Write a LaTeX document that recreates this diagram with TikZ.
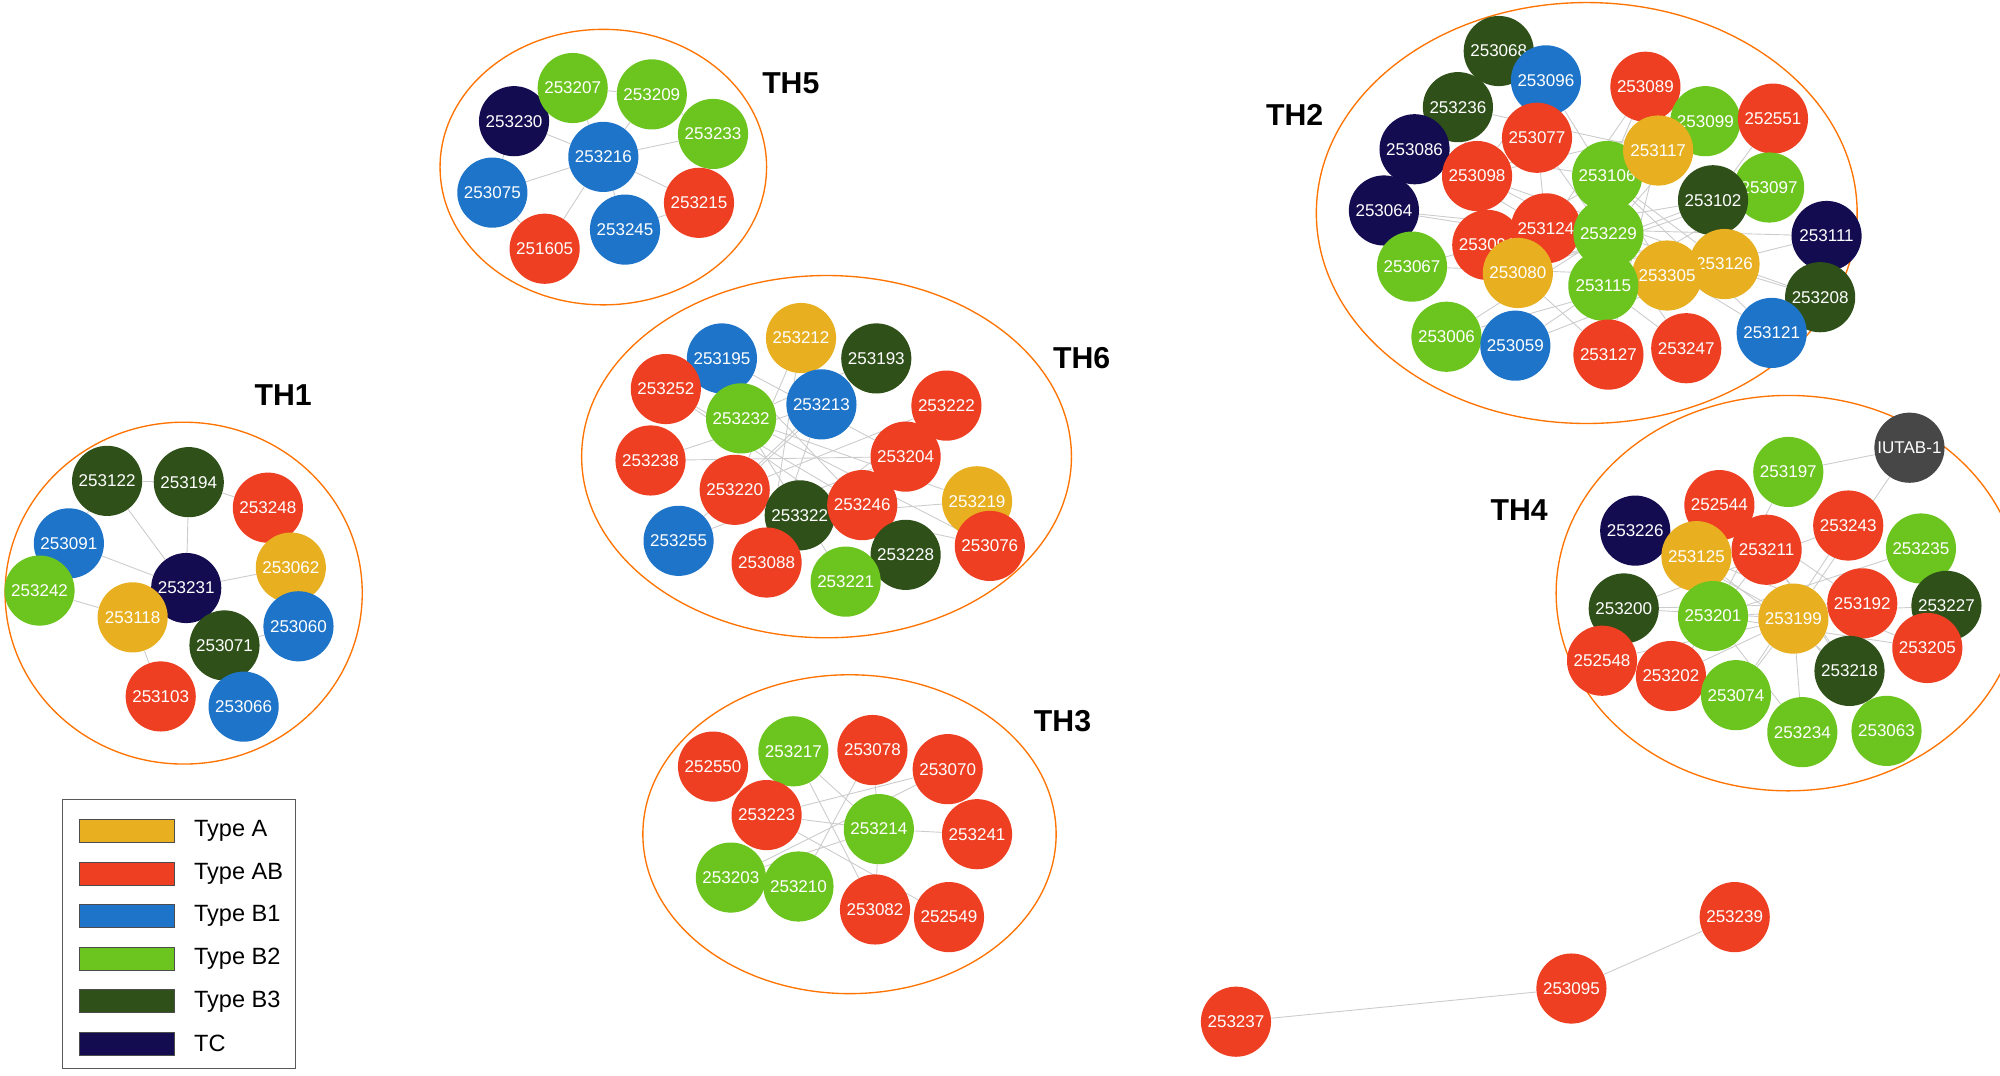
\documentclass[tikz,border=0pt]{standalone}
\usepackage{fontspec}
\setmainfont{Liberation Sans}
\usetikzlibrary{backgrounds}
\definecolor{typeA}{HTML}{E8B020}
\definecolor{typeAB}{HTML}{EE3F22}
\definecolor{typeBa}{HTML}{1E74C8}
\definecolor{typeBb}{HTML}{6CC51E}
\definecolor{typeBc}{HTML}{2F5119}
\definecolor{typeTC}{HTML}{140C50}
\definecolor{iutab}{HTML}{474747}
\tikzset{
  strain/.style={circle,minimum size=1.1cm,inner sep=0pt,text=white,font=\fontsize{7.6}{8}\selectfont},
  A/.style={strain,fill=typeA}, AB/.style={strain,fill=typeAB}, B1/.style={strain,fill=typeBa},
  B2/.style={strain,fill=typeBb}, B3/.style={strain,fill=typeBc}, TC/.style={strain,fill=typeTC},
  GR/.style={strain,fill=iutab},
  hull/.style={draw=orange!90!red,line width=0.6pt},
  link/.style={draw=gray!40,line width=0.4pt},
  group/.style={font=\fontsize{13.5}{14}\selectfont\bfseries},
  swatch/.style={draw=gray!60!black,line width=0.3pt,minimum width=1.5cm,minimum height=0.36cm,inner sep=0pt},
  key/.style={anchor=west,font=\fontsize{10.5}{12}\selectfont}
}
\newcommand{\pnode}[4]{\node[#4] (n#1) at (#2,#3) {#1};}
\begin{document}
\begin{tikzpicture}[x=0.02cm,y=-0.02cm]
    \useasboundingbox (0,0) rectangle (1568,843);
    % cluster hulls
    \draw[hull] (473,131) ellipse [x radius=128,y radius=108];
    \draw[hull] (1244,167) ellipse [x radius=212,y radius=165];
    \draw[hull] (648,358) ellipse [x radius=192,y radius=142];
    \draw[hull] (144,465) ellipse [x radius=140,y radius=134];
    \draw[hull] (666,654) ellipse [x radius=162,y radius=125];
    \draw[hull] (1402,465) ellipse [x radius=182,y radius=155];
    \node[group] (th5) at (620,65) {TH5};
    \node[group] (th2) at (1015,90) {TH2};
    \node[group] (th6) at (848,281) {TH6};
    \node[group] (th1) at (222,310) {TH1};
    \node[group] (th3) at (833,565) {TH3};
    \node[group] (th4) at (1191,400) {TH4};

    % TH5
    \pnode{253230}{403}{95}{TC} \pnode{253207}{449}{69}{B2} \pnode{253209}{511}{74}{B2}
    \pnode{253233}{559}{105}{B2} \pnode{253216}{473}{123}{B1} \pnode{253075}{386}{151}{B1}
    \pnode{253215}{548}{159}{AB} \pnode{253245}{490}{180}{B1} \pnode{251605}{427}{195}{AB}
    % TH2
    \pnode{253068}{1175}{40}{B3} \pnode{253096}{1212}{63}{B1} \pnode{253089}{1290}{68}{AB}
    \pnode{253236}{1143}{84}{B3} \pnode{253099}{1337}{95}{B2} \pnode{252551}{1390}{93}{AB}
    \pnode{253077}{1205}{108}{AB} \pnode{253086}{1109}{117}{TC} \pnode{253098}{1158}{138}{AB}
    \pnode{253106}{1260}{138}{B2} \pnode{253117}{1300}{118}{A} \pnode{253097}{1387}{147}{B2}
    \pnode{253102}{1343}{157}{B3} \pnode{253064}{1085}{165}{TC} \pnode{253111}{1432}{185}{TC}
    \pnode{253091}{1166}{192}{AB} \pnode{253124}{1212}{179}{AB} \pnode{253229}{1261}{183}{B2}
    \pnode{253067}{1107}{209}{B2} \pnode{253080}{1190}{214}{A} \pnode{253126}{1352}{207}{A}
    \pnode{253305}{1307}{216}{A} \pnode{253115}{1257}{224}{B2} \pnode{253208}{1427}{233}{B3}
    \pnode{253006}{1134}{264}{B2} \pnode{253059}{1188}{271}{B1} \pnode{253127}{1261}{278}{AB}
    \pnode{253247}{1322}{273}{AB} \pnode{253121}{1389}{261}{B1}
    % TH6
    \pnode{253212}{628}{265}{A} \pnode{253195}{566}{281}{B1} \pnode{253193}{687}{281}{B3}
    \pnode{253252}{522}{305}{AB} \pnode{253213}{644}{317}{B1} \pnode{253222}{742}{318}{AB}
    \pnode{253232}{581}{328}{B2} \pnode{253238}{510}{361}{AB} \pnode{253204}{710}{358}{AB}
    \pnode{253220}{576}{384}{AB} \pnode{253219}{766}{393}{A} \pnode{253322}{627}{404}{B3}
    \pnode{253246}{676}{396}{AB} \pnode{253255}{532}{424}{B1} \pnode{253076}{776}{428}{AB}
    \pnode{253228}{710}{435}{B3} \pnode{253088}{601}{441}{AB} \pnode{253221}{663}{456}{B2}
    % TH1
    \pnode{253122}{84}{377}{B3} \pnode{253194}{148}{378}{B3} \pnode{253248}{210}{398}{AB}
    \node[B1] (n253091b) at (54,426) {253091};
    \pnode{253062}{228}{445}{A} \pnode{253231}{146}{461}{TC}
    \pnode{253242}{31}{463}{B2} \pnode{253118}{104}{484}{A} \pnode{253060}{234}{491}{B1}
    \pnode{253071}{176}{506}{B3} \pnode{253103}{126}{546}{AB} \pnode{253066}{191}{554}{B1}
    % TH3
    \pnode{252550}{559}{601}{AB} \pnode{253217}{622}{589}{B2} \pnode{253078}{684}{588}{AB}
    \pnode{253070}{743}{603}{AB} \pnode{253223}{601}{639}{AB} \pnode{253214}{689}{650}{B2}
    \pnode{253241}{766}{654}{AB} \pnode{253203}{573}{688}{B2} \pnode{253210}{626}{695}{B2}
    \pnode{253082}{686}{713}{AB} \pnode{252549}{744}{719}{AB}
    % TH4
    \pnode{IUTAB-1}{1497}{351}{GR} \pnode{253197}{1402}{370}{B2} \pnode{252544}{1348}{396}{AB}
    \pnode{253243}{1449}{412}{AB} \pnode{253226}{1282}{416}{TC} \pnode{253235}{1506}{430}{B2}
    \pnode{253211}{1385}{431}{AB} \pnode{253125}{1330}{436}{A} \pnode{253192}{1460}{473}{AB}
    \pnode{253227}{1526}{475}{B3} \pnode{253200}{1273}{477}{B3} \pnode{253201}{1343}{483}{B2}
    \pnode{253199}{1406}{485}{A} \pnode{253205}{1511}{508}{AB} \pnode{252548}{1256}{518}{AB}
    \pnode{253202}{1310}{530}{AB} \pnode{253218}{1450}{526}{B3} \pnode{253074}{1361}{545}{B2}
    \pnode{253234}{1413}{574}{B2} \pnode{253063}{1479}{573}{B2}
    % singletons
    \pnode{253239}{1360}{719}{AB} \pnode{253095}{1232}{775}{AB} \pnode{253237}{969}{801}{AB}

    % links
    \begin{pgfonlayer}{background}
    \foreach \a/\b in {253230/253216,253207/253216,253209/253216,253233/253216,253075/253216,
        253215/253216,253245/253216,251605/253216,253230/253075,253207/253209,253209/253233,
        253245/253215,251605/253075,253230/253207,
        253068/253077,253096/253098,253089/253106,253236/253117,253099/253229,252551/253102,
        253077/253124,253086/253106,253098/253305,253106/253126,253117/253091,253097/253115,
        253102/253080,253064/253229,253111/253305,253091/253126,253124/253102,253229/253208,
        253067/253124,253080/253127,253126/253059,253305/253006,253115/253247,253208/253098,
        253006/253229,253059/253115,253127/253117,253247/253077,253121/253229,253086/253124,
        253236/253091,253096/253305,253089/253080,253064/253126,253067/253305,253111/253124,
        253099/253098,252551/253106,253097/253080,253121/253106,
        253212/253220,253195/253204,253193/253232,253252/253246,253213/253238,253222/253220,
        253232/253219,253238/253204,253204/253255,253220/253076,253219/253322,253246/253195,
        253255/253213,253076/253232,253228/253252,253088/253213,253221/253232,253212/253088,
        253193/253220,253222/253322,
        253122/253231,253194/253231,253248/253062,253091b/253231,253062/253231,253242/253118,
        253118/253231,253060/253071,253071/253231,253103/253118,253066/253071,253091b/253242,
        253122/253091b,253194/253122,253248/253194,
        252550/253223,253217/253214,253078/253214,253070/253223,253223/253214,253214/253241,
        253203/253214,253210/253078,253082/253214,252549/253223,253217/253082,253070/253203,
        IUTAB-1/253197,IUTAB-1/253199,253197/253201,252544/253192,253243/253200,253226/253199,
        253235/253201,253211/253202,253125/253218,253192/253200,253227/253201,253200/253199,
        253201/253205,253199/252548,253205/253125,253202/253199,253218/253211,253074/253243,
        253234/253201,253063/253211,253234/253199,253074/253199,253063/253199,
        253237/253095,253095/253239}
        \draw[link] (n\a) -- (n\b);
    \end{pgfonlayer}

    % legend
    \draw[gray!70!black,line width=0.4pt] (49,627) rectangle (232,838);
    \foreach \c/\t/\y in {typeA/Type A/651,typeAB/Type AB/685,typeBa/Type B1/718,
        typeBb/Type B2/752,typeBc/Type B3/785,typeTC/TC/818}{
        \node[swatch,fill=\c] (sw\y) at (99.5,\y) {};
        \node[key] (ky\y) at (146,\y) {\t};
    }
\end{tikzpicture}
\end{document}
